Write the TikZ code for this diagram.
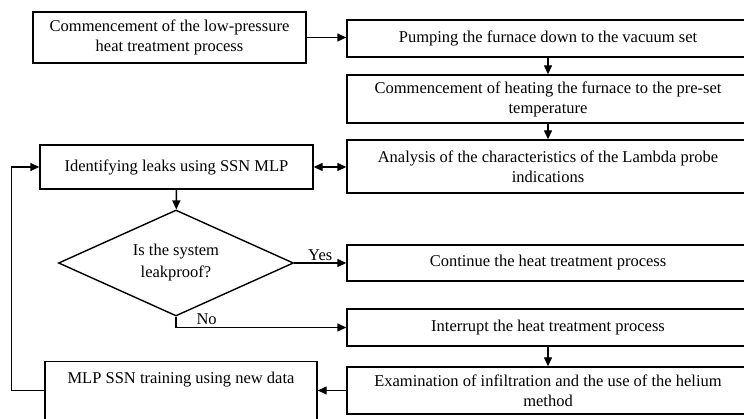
\documentclass[tikz,border=0pt]{standalone}
\usepackage{fontspec}
\setmainfont{Liberation Serif}
\usetikzlibrary{shapes.geometric, arrows.meta, positioning}

\begin{document}
\begin{tikzpicture}[x=1pt, y=-1pt,
    box/.style={rectangle, draw, line width=1.4pt, inner sep=0pt, align=center,
                font=\fontsize{16.5}{20}\selectfont},
    decision/.style={diamond, draw, line width=1.4pt, inner sep=0pt, align=center,
                minimum width=235pt, minimum height=106pt, aspect=2.2,
                font=\fontsize{16.5}{22}\selectfont},
    flow/.style={-{Triangle[length=9pt, width=8pt]}, line width=1.4pt},
    lbl/.style={font=\fontsize{16.5}{20}\selectfont, inner sep=2pt}]

    \useasboundingbox (0,0) rectangle (744,419);
    \clip (0,0) rectangle (744,419);

    % left column
    \node[box, minimum width=273pt, minimum height=51pt] (start) at (169.5,37.5) {Commencement of the low-pressure\\heat treatment process};
    \node[box, minimum width=273pt, minimum height=44pt] (ident) at (176.5,167) {Identifying leaks using SSN MLP};
    \node[decision] (leak) at (176,263) {Is the system\\leakproof?};
    \node[box, minimum width=272pt, anchor=north, text height=22pt, text depth=50pt] (train) at (181,361) {MLP SSN training using new data};

    % right column
    \node[box, minimum width=402pt, minimum height=37pt] (pump) at (548,38.5) {Pumping the furnace down to the vacuum set};
    \node[box, minimum width=402pt, minimum height=48pt] (heat) at (548,99) {Commencement of heating the furnace to the pre-set\\temperature};
    \node[box, minimum width=402pt, minimum height=53pt] (lambda) at (548,166.5) {Analysis of the characteristics of the Lambda probe\\indications};
    \node[box, minimum width=402pt, minimum height=36pt] (cont) at (548,263) {Continue the heat treatment process};
    \node[box, minimum width=402pt, minimum height=37pt] (intr) at (548,327.5) {Interrupt the heat treatment process};
    \node[box, minimum width=402pt, minimum height=47pt] (helium) at (548,390.5) {Examination of infiltration and the use of the helium\\method};

    % connectors
    \draw[flow] (start.east) -- (start.east -| pump.west);
    \draw[flow] (pump) -- (heat);
    \draw[flow] (heat) -- (lambda);
    \draw[flow, {Triangle[length=9pt, width=8pt]}-{Triangle[length=9pt, width=8pt]}] (ident.east) -- (ident.east -| lambda.west);
    \draw[flow] (ident) -- (leak);
    \draw[flow] (leak.east) -- node[lbl, above]{Yes} (leak.east -| cont.west);
    \draw[flow] (leak.south) |- node[lbl, above, pos=0.59]{No} (intr.west);
    \draw[flow] (intr) -- (helium);
    \draw[flow] (helium.west) -- (helium.west -| train.east);
    \draw[flow] (train.west |- helium.west) -- ++(-33,0) |- (ident.west);
\end{tikzpicture}
\end{document}
